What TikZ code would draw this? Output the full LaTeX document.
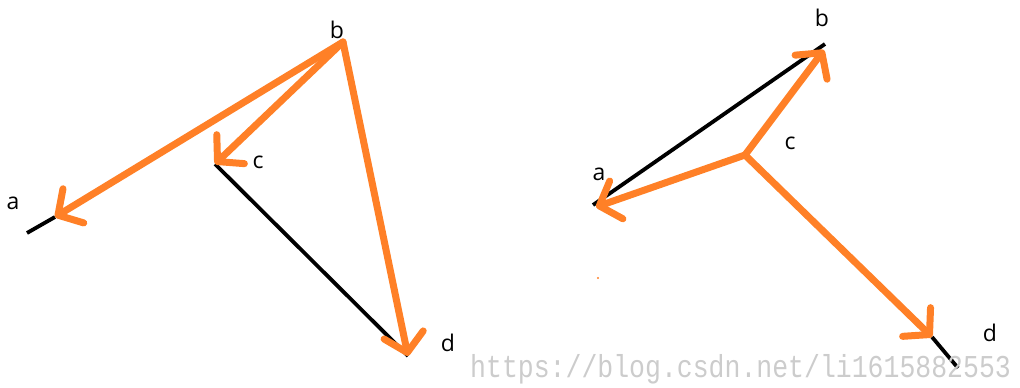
\documentclass[tikz,border=0pt]{standalone}
\usepackage{fontspec}
\setsansfont{Open Sans}
\newfontfamily\wmfont{Liberation Mono}
\usetikzlibrary{arrows.meta}
\definecolor{vorange}{RGB}{255,128,39}
\tikzset{
  vec/.style={draw=vorange,line width=7pt,line cap=round,line join=round,
    -{Straight Barb[length=18pt,width=40pt,line cap=round,line join=round]}},
  seg/.style={draw=black,line width=3.8pt},
  lbl/.style={font=\sffamily\fontsize{23}{23}\selectfont,text=black,inner sep=0pt}
}
\begin{document}
\begin{tikzpicture}[x=1pt,y=-1pt]
\useasboundingbox (0,0) rectangle (1020,388);
% left panel
\coordinate (La0) at (27,233);
\coordinate (La) at (55,217);
\coordinate (Lb) at (343,42);
\coordinate (Lc) at (215,164);
\coordinate (Ld) at (408,356);
\node[lbl] (Lla) at (13,203) {a};
\node[lbl] (Llb) at (337,30) {b};
\node[lbl] (Llc) at (258,162) {c};
\node[lbl] (Lld) at (448,343) {d};
\draw[seg] (La0) -- (La);
\draw[seg] (Lc) -- (Ld);
\draw[vec] (Lb) -- (La);
\draw[vec] (Lb) -- (Lc);
\draw[vec] (Lb) -- (Ld);
% right panel
\coordinate (Ra) at (593,205);
\coordinate (Rb) at (825,44);
\coordinate (Rc) at (745,155);
\coordinate (Rd) at (932,337);
\coordinate (Rd1) at (958,368);
\coordinate (Rtb) at (824,50);
\coordinate (Rta) at (596,207);
\node[lbl] (Rla) at (599,174) {a};
\node[lbl] (Rlb) at (822,18) {b};
\node[lbl] (Rlc) at (790,143) {c};
\node[lbl] (Rld) at (990,333) {d};
\draw[seg] (Ra) -- (Rb);
\draw[seg] (Rd) -- (Rd1);
\draw[vec] (Rc) -- (Rtb);
\draw[vec] (Rc) -- (Rta);
\draw[vec] (Rc) -- (Rd);
\fill[vorange] (598,278) circle (1.2pt);
% watermark
\node[anchor=base west,inner sep=0pt,text=black!20,font=\wmfont\fontsize{26.5}{26.5}\selectfont,yscale=1.2] (wm) at (470,377) {https://blog.csdn.net/li1615882553};
\end{tikzpicture}
\end{document}
